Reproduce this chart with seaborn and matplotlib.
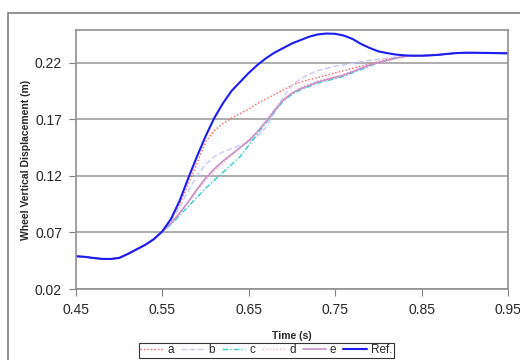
import matplotlib
matplotlib.use("Agg")
import matplotlib.pyplot as plt
import seaborn as sns
import pandas as pd
from matplotlib.patches import Rectangle

# Tempo (s) comum a todas as séries
time = [0.45, 0.46, 0.47, 0.48, 0.49, 0.50, 0.51, 0.52, 0.53, 0.54,
        0.55, 0.56, 0.57, 0.58, 0.59, 0.60, 0.61, 0.62, 0.63, 0.64,
        0.65, 0.66, 0.67, 0.68, 0.69, 0.70, 0.71, 0.72, 0.73, 0.74,
        0.75, 0.76, 0.77, 0.78, 0.79, 0.80, 0.81, 0.82, 0.83, 0.84,
        0.85, 0.86, 0.87, 0.88, 0.89, 0.90, 0.91, 0.92, 0.93, 0.94, 0.95]

# trecho inicial comum (0.45 - 0.55)
common = [0.049, 0.0485, 0.0475, 0.0467, 0.0466, 0.0475, 0.051, 0.055, 0.059, 0.064, 0.071]
# trecho final comum (0.84 - 0.95)
tail = [0.2262, 0.2262, 0.2265, 0.227, 0.2278, 0.2285, 0.2288, 0.2288, 0.2287, 0.2286, 0.2284, 0.2283]

ref = common + [0.082, 0.098, 0.118, 0.137, 0.155, 0.171, 0.184, 0.195, 0.203,
                0.211, 0.218, 0.224, 0.229, 0.233, 0.237, 0.240, 0.243, 0.245, 0.2458,
                0.2455, 0.244, 0.241, 0.2365, 0.233, 0.230, 0.2285, 0.2272, 0.2265] + tail
a = common + [0.081, 0.095, 0.113, 0.131, 0.150, 0.160, 0.166, 0.171, 0.175,
              0.179, 0.184, 0.188, 0.192, 0.196, 0.200, 0.203, 0.205, 0.207, 0.209,
              0.211, 0.213, 0.215, 0.217, 0.219, 0.221, 0.223, 0.2245, 0.2255] + tail
b = common + [0.080, 0.092, 0.107, 0.120, 0.130, 0.137, 0.141, 0.144, 0.147,
              0.150, 0.155, 0.163, 0.176, 0.190, 0.200, 0.206, 0.210, 0.213, 0.215,
              0.217, 0.218, 0.2195, 0.221, 0.222, 0.223, 0.224, 0.225, 0.2258] + tail
c = common + [0.077, 0.085, 0.093, 0.101, 0.109, 0.116, 0.123, 0.130, 0.137,
              0.147, 0.157, 0.167, 0.177, 0.186, 0.192, 0.196, 0.199, 0.202, 0.204,
              0.206, 0.208, 0.211, 0.214, 0.217, 0.220, 0.222, 0.224, 0.2255] + tail
d = common + [0.079, 0.088, 0.097, 0.107, 0.116, 0.124, 0.131, 0.138, 0.145,
              0.152, 0.159, 0.169, 0.179, 0.188, 0.194, 0.198, 0.201, 0.204, 0.206,
              0.208, 0.210, 0.213, 0.216, 0.218, 0.220, 0.222, 0.224, 0.2255] + tail
e = common + [0.078, 0.087, 0.097, 0.108, 0.118, 0.126, 0.133, 0.139, 0.145,
              0.151, 0.159, 0.168, 0.178, 0.187, 0.193, 0.197, 0.200, 0.203, 0.205,
              0.207, 0.209, 0.212, 0.215, 0.218, 0.220, 0.222, 0.224, 0.2255] + tail

series = {"a": a, "b": b, "c": c, "d": d, "e": e, "Ref.": ref}
colors = {"a": "#ff5a5a", "b": "#c8c8ff", "c": "#33cccc", "d": "#ffb0c8", "e": "#c890c8", "Ref.": "#1c1cf0"}
styles = {"a": (0, (1, 1.5)), "b": (0, (4, 2)), "c": (0, (4, 1.5, 1, 1.5)), "d": (0, (1, 1.5)),
          "e": "-", "Ref.": "-"}
widths = {"a": 1.0, "b": 1.0, "c": 1.0, "d": 1.0, "e": 1.2, "Ref.": 1.5}

sns.set_style("white")
plt.rcParams["font.family"] = ["Liberation Sans", "DejaVu Sans"]

fig = plt.figure(figsize=(5.2, 3.6), dpi=100)
ax = fig.add_axes([0.146, 0.197, 0.831, 0.72])

for name, vals in series.items():
    df = pd.DataFrame({"t": time, "y": vals})
    sns.lineplot(data=df, x="t", y="y", ax=ax, color=colors[name], linestyle=styles[name],
                 linewidth=widths[name], label=name)

ax.set_xlim(0.45, 0.95)
ax.set_ylim(0.02, 0.249)
ax.set_xticks([0.45, 0.55, 0.65, 0.75, 0.85, 0.95])
ax.set_yticks([0.02, 0.07, 0.12, 0.17, 0.22])
ax.set_xticklabels(["0.45", "0.55", "0.65", "0.75", "0.85", "0.95"])
ax.set_yticklabels(["0.02", "0.07", "0.12", "0.17", "0.22"])
ax.tick_params(axis="both", labelsize=10, length=5, direction="out", color="#808080",
               bottom=True, left=True, pad=5)
ax.yaxis.grid(True, color="#a0a0a0", linewidth=1.2)
ax.xaxis.grid(False)
for s in ax.spines.values():
    s.set_color("#909090")
    s.set_linewidth(1.2)

ax.set_xlabel("Time (s)", fontsize=7.5, fontweight="bold", labelpad=10)
ax.set_ylabel("Wheel Vertical Displacement (m)", fontsize=7.5, fontweight="bold", labelpad=3)

leg = ax.legend(ncol=6, loc="center", bbox_to_anchor=(0.512, 0.027), bbox_transform=fig.transFigure,
                fontsize=8.5, frameon=True, fancybox=False, handlelength=2.0, handletextpad=0.3,
                columnspacing=0.6, borderpad=0.15, borderaxespad=0)
leg.get_frame().set_edgecolor("black")
leg.get_frame().set_linewidth(0.8)

# moldura externa do gráfico
fig.patches.append(Rectangle((0.015, -0.1), 1.1, 1.064, transform=fig.transFigure,
                             fill=False, edgecolor="#808080", linewidth=1.2))

plt.savefig("out.png", dpi=100)
